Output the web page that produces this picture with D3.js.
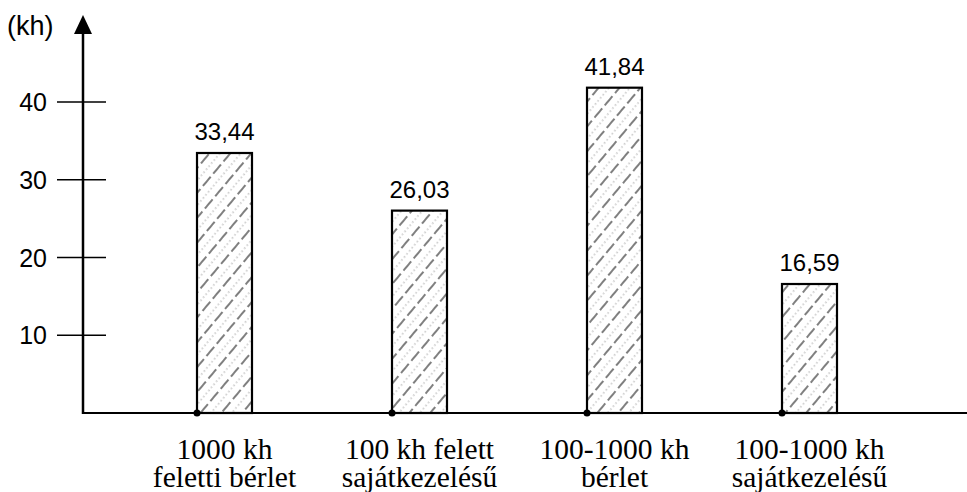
<!DOCTYPE html>
<html>
<head>
<meta charset="utf-8">
<script src="https://cdn.jsdelivr.net/npm/d3@7"></script>
<style>
  body { margin: 0; background: #fff; }
  svg { display: block; }
</style>
</head>
<body>
<div class="areaGrafica"></div>
<script>
const kategoriakSor1 = ['1000 kh', '100 kh felett', '100-1000 kh', '100-1000 kh'];
const kategoriakSor2 = ['feletti bérlet', 'sajátkezelésű', 'bérlet', 'sajátkezelésű'];
const ertekek = [33.44, 26.03, 41.84, 16.59];
const ertekFeliratok = ['33,44', '26,03', '41,84', '16,59'];
const yTickek = [10, 20, 30, 40];
const yEgyseg = '(kh)';

function grafica(){
  const w = 967;
  const h = 492;
  const x0 = 83;      // y tengely helye
  const alap = 413;   // x tengely helye
  const sans = "'Liberation Sans', Arial, sans-serif";
  const serif = "'Liberation Serif', 'Times New Roman', serif";

  let svg = d3.select('.areaGrafica')
              .append('svg')
              .attr('width', w)
              .attr('height', h)

  // satirozas
  let defs = svg.append('defs')
  let minta = defs.append('pattern')
                  .attr('id', 'satir')
                  .attr('patternUnits', 'userSpaceOnUse')
                  .attr('width', 16)
                  .attr('height', 16)
                  .attr('patternTransform', 'rotate(40)')
  minta.append('rect').attr('width', 16).attr('height', 16).attr('fill', '#fff')
  minta.append('line')
       .attr('x1', 3).attr('x2', 3).attr('y1', 0).attr('y2', 16)
       .attr('stroke', '#000').attr('stroke-width', 1)
       .attr('stroke-dasharray', '12,4')
  minta.append('line')
       .attr('x1', 11).attr('x2', 11).attr('y1', 0).attr('y2', 16)
       .attr('stroke', '#777').attr('stroke-width', 0.7)
       .attr('stroke-dasharray', '1.5,2.5')

  let xScale = d3.scaleBand()
                 .domain(d3.range(ertekek.length))
                 .range([127, 907])
                 .paddingInner(0.718)
                 .paddingOuter(0.359)

  let yScale = d3.scaleLinear()
                 .domain([0, 40])
                 .range([alap, 102])

  const kozep = (i) => xScale(i) + xScale.bandwidth() / 2

  // oszlopok
  svg.selectAll('rect.oszlop')
     .data(ertekek)
     .enter()
     .append('rect')
     .attr('class', 'oszlop')
     .attr('x', (d, i) => xScale(i))
     .attr('y', (d) => yScale(d))
     .attr('width', xScale.bandwidth())
     .attr('height', (d) => alap - yScale(d))
     .attr('fill', 'url(#satir)')
     .attr('stroke', '#000')
     .attr('stroke-width', 2.2)

  // ertekek
  svg.selectAll('text.ertek')
     .data(ertekek)
     .enter()
     .append('text')
     .attr('class', 'ertek')
     .attr('x', (d, i) => kozep(i))
     .attr('y', (d) => yScale(d) - 13)
     .attr('text-anchor', 'middle')
     .attr('font-family', sans)
     .attr('font-size', 24)
     .text((d, i) => ertekFeliratok[i])

  // x tengely
  svg.append('line')
     .attr('x1', x0).attr('x2', w)
     .attr('y1', alap).attr('y2', alap)
     .attr('stroke', '#000').attr('stroke-width', 2)

  svg.selectAll('circle.pont')
     .data(ertekek)
     .enter()
     .append('circle')
     .attr('class', 'pont')
     .attr('cx', (d, i) => xScale(i))
     .attr('cy', alap)
     .attr('r', 3.5)
     .attr('fill', '#000')

  // kategoria feliratok
  svg.selectAll('text.kat1')
     .data(kategoriakSor1)
     .enter()
     .append('text')
     .attr('class', 'kat1')
     .attr('x', (d, i) => kozep(i))
     .attr('y', 459)
     .attr('text-anchor', 'middle')
     .attr('font-family', serif)
     .attr('font-size', 29.5)
     .text((d) => d)

  svg.selectAll('text.kat2')
     .data(kategoriakSor2)
     .enter()
     .append('text')
     .attr('class', 'kat2')
     .attr('x', (d, i) => kozep(i))
     .attr('y', 487)
     .attr('text-anchor', 'middle')
     .attr('font-family', serif)
     .attr('font-size', 29.5)
     .text((d) => d)

  // y tengely
  svg.append('line')
     .attr('x1', x0).attr('x2', x0)
     .attr('y1', alap + 1).attr('y2', 30)
     .attr('stroke', '#000').attr('stroke-width', 2.5)

  svg.append('path')
     .attr('d', `M${x0},15 L${x0 - 9},34 L${x0 + 9},34 Z`)
     .attr('fill', '#000')

  svg.selectAll('line.tick')
     .data(yTickek)
     .enter()
     .append('line')
     .attr('class', 'tick')
     .attr('x1', 57).attr('x2', 106)
     .attr('y1', (d) => yScale(d)).attr('y2', (d) => yScale(d))
     .attr('stroke', '#000').attr('stroke-width', 1.5)

  svg.selectAll('text.ytick')
     .data(yTickek)
     .enter()
     .append('text')
     .attr('class', 'ytick')
     .attr('x', 47)
     .attr('y', (d) => yScale(d))
     .attr('dy', '0.36em')
     .attr('text-anchor', 'end')
     .attr('font-family', sans)
     .attr('font-size', 25)
     .text((d) => d)

  svg.append('text')
     .attr('x', 7)
     .attr('y', 35)
     .attr('font-family', sans)
     .attr('font-size', 27)
     .text(yEgyseg)
}

grafica();
</script>
</body>
</html>
